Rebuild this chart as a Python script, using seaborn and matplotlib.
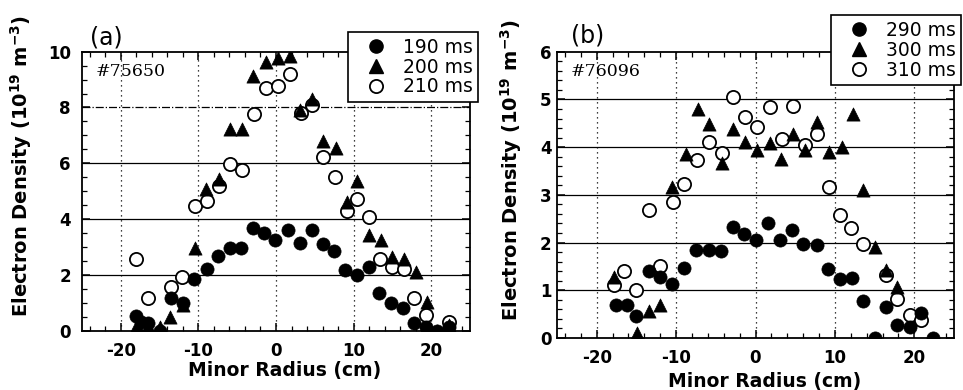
import numpy as np
import pandas as pd
import matplotlib
matplotlib.use("Agg")
import matplotlib.pyplot as plt
from matplotlib.lines import Line2D
from matplotlib.ticker import MultipleLocator
import seaborn as sns

# ---------------- data ----------------
# Panel (a) shot #75650
r190 = [-18.0, -17.4, -16.5, -14.9, -13.5, -12.0, -10.6, -8.9, -7.5, -5.9, -4.5, -2.9, -1.5, -0.1, 1.5, 3.1,
        4.6, 6.1, 7.5, 8.9, 10.4, 12.0, 13.3, 14.8, 16.4, 17.8, 19.3, 20.8, 22.3]
n190 = [0.52, 0.31, 0.26, 0.0, 1.15, 0.97, 1.86, 2.19, 2.69, 2.97, 2.96, 3.67, 3.49, 3.23, 3.59, 3.14,
        3.59, 3.11, 2.85, 2.16, 2.0, 2.26, 1.33, 0.97, 0.79, 0.26, 0.14, 0.0, 0.14]
r200 = [-17.9, -16.5, -14.9, -13.6, -12.0, -10.5, -9.0, -7.4, -5.9, -4.4, -2.9, -1.3, 0.3, 1.8, 3.1, 4.7,
        6.1, 7.7, 9.2, 10.5, 12.0, 13.5, 15.0, 16.5, 18.0, 19.5, 20.8, 22.3]
n200 = [0.2, 0.15, 0.14, 0.49, 0.91, 2.97, 5.08, 5.43, 7.22, 7.22, 9.13, 9.64, 9.76, 9.84, 7.9, 8.3,
        6.80, 6.56, 4.6, 5.38, 3.41, 3.23, 2.64, 2.58, 2.1, 1.03, 0.0, 0.2]
r210 = [-18.0, -16.5, -13.5, -12.1, -10.5, -8.9, -7.4, -5.9, -4.4, -2.8, -1.3, 0.2, 1.8, 3.2, 4.7, 6.1,
        7.6, 9.2, 10.5, 12.0, 13.4, 14.9, 16.5, 17.8, 19.3, 22.3]
n210 = [2.58, 1.15, 1.56, 1.92, 4.48, 4.66, 5.2, 5.97, 5.76, 7.78, 8.71, 8.77, 9.19, 7.8, 8.1, 6.21,
        5.49, 4.3, 4.7, 4.06, 2.58, 2.28, 2.19, 1.15, 0.55, 0.31]

# Panel (b) shot #76096
r290 = [-17.6, -16.2, -15.1, -13.4, -12.0, -10.5, -9.0, -7.5, -5.9, -4.4, -2.8, -1.4, 0.1, 1.6, 3.1, 4.6,
        6.0, 7.7, 9.1, 10.6, 12.1, 13.6, 15.0, 16.4, 17.8, 19.4, 20.9, 22.4]
n290 = [0.69, 0.69, 0.46, 1.40, 1.27, 1.14, 1.46, 1.84, 1.84, 1.83, 2.33, 2.17, 2.06, 2.42, 2.06, 2.26,
        1.98, 1.95, 1.44, 1.23, 1.25, 0.77, 0.01, 0.66, 0.27, 0.24, 0.53, 0.0]
r300 = [-17.8, -14.9, -13.4, -12.0, -10.5, -8.8, -7.2, -5.9, -4.2, -2.8, -1.3, 0.2, 1.8, 3.2, 4.7, 6.2,
        7.7, 9.2, 10.9, 12.3, 13.6, 15.0, 16.4, 17.8]
n300 = [1.27, 0.10, 0.57, 0.69, 3.17, 3.86, 4.80, 4.49, 3.67, 4.39, 4.11, 3.93, 4.09, 3.76, 4.28, 3.93,
        4.53, 3.90, 4.00, 4.70, 3.10, 1.91, 1.42, 1.07]
r310 = [-17.8, -16.5, -15.1, -13.4, -12.0, -10.4, -9.0, -7.4, -5.9, -4.2, -2.8, -1.3, 0.2, 1.8, 3.3, 4.7,
        6.2, 7.8, 9.2, 10.6, 12.0, 13.6, 16.4, 17.8, 19.4, 20.9]
n310 = [1.11, 1.40, 1.00, 2.68, 1.51, 2.85, 3.22, 3.72, 4.11, 3.88, 5.05, 4.63, 4.42, 4.84, 4.18, 4.87,
        4.04, 4.28, 3.17, 2.57, 2.31, 1.97, 1.32, 0.81, 0.48, 0.38]

labels_a = ["190 ms", "200 ms", "210 ms"]
labels_b = ["290 ms", "300 ms", "310 ms"]
shot_a = "#75650"
shot_b = "#76096"
xticks = [-20, -10, 0, 10, 20]

# ---------------- style ----------------
sns.set_style("ticks")
plt.rcParams["font.family"] = ["DejaVu Sans"]
plt.rcParams.update({
    "text.color": "black", "axes.labelcolor": "black",
    "xtick.color": "black", "ytick.color": "black",
    "axes.edgecolor": "black",
})

fig = plt.figure(figsize=(9.63, 3.9), dpi=100)
axa = fig.add_axes([82 / 963, 1 - 330.5 / 390, 388 / 963, 278.8 / 390])
axb = fig.add_axes([557 / 963, 1 - 338 / 390, 397 / 963, 286.3 / 390])

MS = 90
LW_OPEN = 1.3


def draw(ax, rf, nf, rt, nt, ro, no):
    sns.scatterplot(x=ro, y=no, ax=ax, marker="o", s=MS, color="white", edgecolor="black",
                    linewidth=LW_OPEN, zorder=3)
    sns.scatterplot(x=rf, y=nf, ax=ax, marker="o", s=MS, color="black", edgecolor="black",
                    linewidth=0.5, zorder=4)
    sns.scatterplot(x=rt, y=nt, ax=ax, marker="^", s=MS, color="black", edgecolor="black",
                    linewidth=0.5, zorder=5)


draw(axa, r190, n190, r200, n200, r210, n210)
draw(axb, r290, n290, r300, n300, r310, n310)


def style_axes(ax, ymax, ymajor, yminor, hlines, dashdot=()):
    ax.set_xlim(-25, 25)
    ax.set_ylim(0, ymax)
    ax.xaxis.set_major_locator(MultipleLocator(10))
    ax.xaxis.set_minor_locator(MultipleLocator(2))
    ax.yaxis.set_major_locator(MultipleLocator(ymajor))
    ax.yaxis.set_minor_locator(MultipleLocator(yminor))
    ax.tick_params(which="both", direction="in", top=True, right=True, bottom=True, left=True,
                   color="black")
    ax.tick_params(which="major", length=6, width=1.1)
    ax.tick_params(which="minor", length=3.5, width=0.9)
    for s in ax.spines.values():
        s.set_visible(True)
        s.set_color("black")
        s.set_linewidth(1.3)
    for h in hlines:
        ls = "-." if h in dashdot else "-"
        ax.axhline(h, color="black", lw=0.9, ls=ls, zorder=1)
    for v in xticks:
        ax.axvline(v, color="black", lw=0.9, ls=(0, (1, 3)), zorder=1)
    ax.set_xticks(xticks)
    ax.set_xticklabels([str(v) for v in xticks], fontsize=12, fontweight="bold")
    ax.set_xlabel("Minor Radius (cm)", fontsize=13.5, fontweight="bold")
    ax.set_ylabel(r"Electron Density (10$^{\mathbf{19}}$ m$^{\mathbf{-3}}$)", fontsize=14,
                  fontweight="bold")
    for lab in ax.get_yticklabels():
        lab.set_fontsize(12)
        lab.set_fontweight("bold")


style_axes(axa, 10, 2, 0.5, [2, 4, 6, 8], dashdot=(8,))
style_axes(axb, 6, 1, 0.2, [1, 2, 3, 4, 5])
axa.tick_params(axis="x", which="major", pad=8)
axa.tick_params(axis="y", which="major", pad=8)
axb.tick_params(axis="x", which="major", pad=8)
axb.tick_params(axis="y", which="major", pad=4)

axa.xaxis.set_label_coords(0.523, -0.11)
axb.xaxis.set_label_coords(0.524, -0.12)
axa.yaxis.set_label_coords(-0.124, 0.59)
axb.yaxis.set_label_coords(-0.083, 0.587)

axa.text(0.035, 0.93, shot_a, transform=axa.transAxes, family="DejaVu Serif", fontsize=12.5,
         va="center", ha="left")
axb.text(0.035, 0.93, shot_b, transform=axb.transAxes, family="DejaVu Serif", fontsize=12.5,
         va="center", ha="left")

fig.text(90 / 963, 1 - 44 / 390, "(a)", fontsize=17, ha="left", va="baseline")
fig.text(571 / 963, 1 - 42 / 390, "(b)", fontsize=17, ha="left", va="baseline")


def handles():
    return [
        Line2D([], [], ls="", marker="o", markersize=9.5, markerfacecolor="black", markeredgecolor="black"),
        Line2D([], [], ls="", marker="^", markersize=9.5, markerfacecolor="black", markeredgecolor="black"),
        Line2D([], [], ls="", marker="o", markersize=9.5, markerfacecolor="white", markeredgecolor="black",
               markeredgewidth=LW_OPEN),
    ]


for lbls, anchor in [(labels_a, (478 / 963, 1 - 32 / 390)), (labels_b, (961 / 963, 1 - 15 / 390))]:
    leg = fig.legend(handles(), lbls, loc="upper right", bbox_to_anchor=anchor, fontsize=13.5,
                     frameon=True, fancybox=False, framealpha=1, edgecolor="black",
                     handlelength=2.4, handletextpad=0.2, labelspacing=0.05, borderpad=0.3,
                     borderaxespad=0)
    leg.get_frame().set_linewidth(1.2)

fig.savefig("out.png", dpi=100)
